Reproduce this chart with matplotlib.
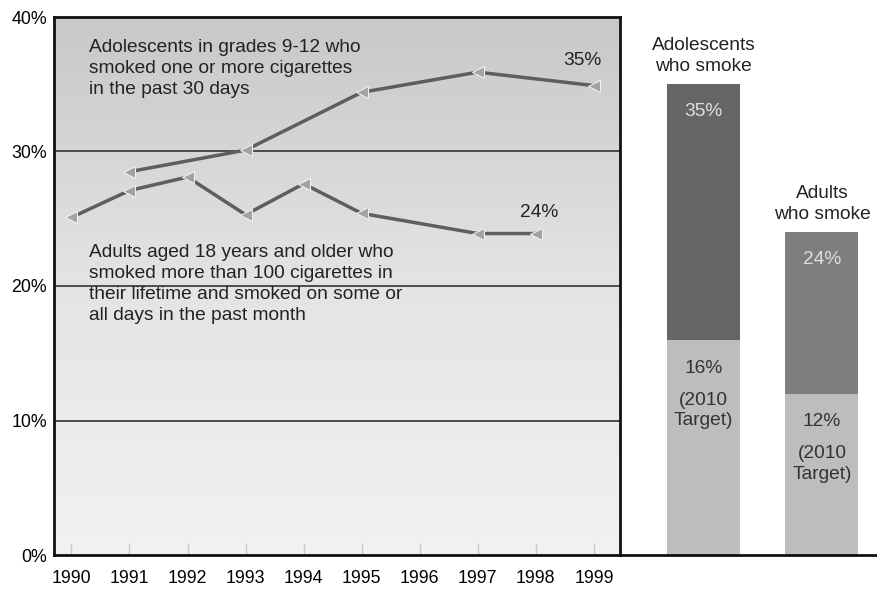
import numpy as np
import matplotlib.pyplot as plt
from matplotlib.colors import LinearSegmentedColormap

plt.rcParams['font.family'] = ['Liberation Sans', 'DejaVu Sans']

# trend data, percent who smoke
teen_years = [1991, 1993, 1995, 1997, 1999]
teen_rate = [28.5, 30.1, 34.4, 35.9, 34.9]
adult_years = [1990, 1991, 1992, 1993, 1994, 1995, 1997, 1998]
adult_rate = [25.1, 27.1, 28.1, 25.3, 27.6, 25.4, 23.9, 23.9]
years = list(range(1990, 2000))

# current vs 2010 target
groups = ["Adolescents\nwho smoke", "Adults\nwho smoke"]
current = [35, 24]
target = [16, 12]
current_colors = ["#666666", "#7e7e7e"]

W, H = 878, 591
FS = 13.8
fig = plt.figure(figsize=(W / 100, H / 100), dpi=100)
fig.patch.set_facecolor("white")

ax = fig.add_axes([54 / W, (H - 555) / H, 566 / W, 538 / H])
ax.set_xlim(1989.7, 1999.45)
ax.set_ylim(0, 40)

# vertical grey gradient behind the lines
grad = np.linspace(0, 1, 256).reshape(-1, 1)
cmap = LinearSegmentedColormap.from_list("bg", ["#f2f2f2", "#e4e4e4", "#c8c8c8"])
ax.imshow(grad, cmap=cmap, aspect="auto", origin="lower",
          extent=[1989.7, 1999.45, 0, 40], zorder=0)

for yv in [10, 20, 30]:
    ax.axhline(yv, color="#333333", lw=1.2, zorder=1)

line_kw = dict(color="#5e5e5e", lw=2.5, marker="<", markersize=9,
               markerfacecolor="#a2a2a2", markeredgecolor="#f0f0f0",
               markeredgewidth=0.8, zorder=3)
ax.plot(teen_years, teen_rate, **line_kw)
ax.plot(adult_years, adult_rate, **line_kw)

txt = dict(fontsize=FS, color="#222222", linespacing=1.32)
ax.text(1990.3, 38.4, "Adolescents in grades 9-12 who\nsmoked one or more cigarettes\nin the past 30 days",
        va="top", ha="left", **txt)
ax.text(1990.3, 23.15, "Adults aged 18 years and older who\nsmoked more than 100 cigarettes in\n"
        "their lifetime and smoked on some or\nall days in the past month",
        va="top", ha="left", **txt)
ax.text(teen_years[-1] - 0.2, teen_rate[-1] + 1.2, "35%", ha="center", va="bottom", fontsize=FS, color="#222222")
ax.text(adult_years[-1] + 0.05, adult_rate[-1] + 0.9, "24%", ha="center", va="bottom", fontsize=FS, color="#222222")

ax.set_yticks([0, 10, 20, 30, 40])
ax.set_yticklabels(["0%", "10%", "20%", "30%", "40%"], fontsize=12.8)
ax.set_xticks(years)
ax.set_xticklabels([str(y) for y in years], fontsize=12.8)
ax.tick_params(axis="y", length=0, pad=5)
ax.tick_params(axis="x", direction="in", length=9, color="#c8c8c8", width=1, pad=11)
for side in ["left", "top", "right", "bottom"]:
    ax.spines[side].set_linewidth(2)
    ax.spines[side].set_color("#111111")
    ax.spines[side].set_zorder(5)

# bar panel to the right
bx = fig.add_axes([620 / W, (H - 555) / H, 258 / W, 538 / H], sharey=ax)
bx.set_xlim(-0.705, 1.473)
bx.set_facecolor("none")
pos = [0, 1.0]
bar_w = 0.616
bx.bar(pos, target, width=bar_w, color="#bdbdbd", zorder=2)
bx.bar(pos, [c - t for c, t in zip(current, target)], bottom=target,
       width=bar_w, color=current_colors, zorder=2)

for p, g, c, t in zip(pos, groups, current, target):
    bx.text(p, c + 0.7, g, ha="center", va="bottom", fontsize=FS,
            color="#222222", linespacing=1.3)
    bx.text(p, c - 2.0, f"{c}%", ha="center", va="center", fontsize=FS, color="#dedede")
    bx.text(p, t - 2.1, f"{t}%", ha="center", va="center", fontsize=FS, color="#333333")
    bx.text(p, t - 3.85, "(2010\nTarget)", ha="center", va="top", fontsize=FS,
            color="#333333", linespacing=1.3)

for side in ["left", "top", "right"]:
    bx.spines[side].set_visible(False)
bx.spines["bottom"].set_linewidth(2)
bx.spines["bottom"].set_color("#111111")
bx.tick_params(left=False, labelleft=False, bottom=False, labelbottom=False)

fig.savefig("out.png", dpi=100)
